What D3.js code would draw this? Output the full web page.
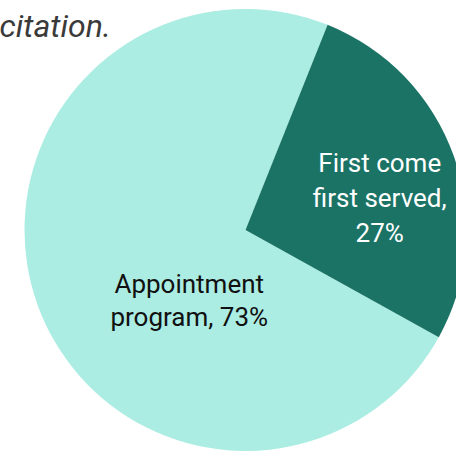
<!DOCTYPE html>
<html>
<head>
<meta charset="utf-8">
<script src="https://d3js.org/d3.v7.min.js"></script>
<style>
body {margin:0; background:#fff;}
svg {display:block; font-family: Roboto, "Noto Sans", sans-serif;}
</style>
</head>
<body>
<svg width="456" height="451"></svg>
<script>
// data
var categories = ["Appointment program", "First come first served"];
var shares = [73, 27];
var labelLines = [["Appointment", "program, 73%"], ["First come", "first served,", "27%"]];
var colors = ["#abede3", "#1b7366"];
var textColors = ["#111111", "#ffffff"];

var svg = d3.select("svg");
var cx = 245.5, cy = 230, radius = 221;

// cut-off subtitle above the chart
svg.append("text")
  .attr("x", 111)
  .attr("y", 37)
  .attr("text-anchor", "end")
  .style("font-style", "italic")
  .style("font-size", "32px")
  .attr("fill", "#3a3a3a")
  .text("citation.");

var pie = d3.pie().sort(null).value(function(d) { return d; })
  .startAngle(119 * Math.PI / 180)
  .endAngle(479 * Math.PI / 180);
var arc = d3.arc().innerRadius(0).outerRadius(radius);

var g = svg.append("g").attr("transform", "translate(" + cx + "," + cy + ")");
var arcs = pie(shares);

g.selectAll("path")
  .data(arcs)
  .enter()
  .append("path")
  .attr("d", arc)
  .attr("fill", function(d, i) { return colors[i]; });

// label anchors (polar, relative to centre) - hand placed like the original
var labelAngle = [218.7, 76.6];
var labelRadius = [90, 138];
var lineHeight = [32.5, 34.7];

g.selectAll("text.lbl")
  .data(arcs)
  .enter()
  .append("text")
  .attr("class", "lbl")
  .attr("text-anchor", "middle")
  .style("font-size", "26px")
  .attr("fill", function(d, i) { return textColors[i]; })
  .each(function(d, i) {
    var a = labelAngle[i] * Math.PI / 180;
    var x = Math.sin(a) * labelRadius[i];
    var y = -Math.cos(a) * labelRadius[i];
    var lines = labelLines[i];
    var top = y - (lines.length - 1) * lineHeight[i] / 2;
    d3.select(this).selectAll("tspan")
      .data(lines)
      .enter()
      .append("tspan")
      .attr("x", x)
      .attr("y", function(l, j) { return top + j * lineHeight[i]; })
      .attr("dy", "0.35em")
      .text(function(l) { return l; });
  });
</script>
</body>
</html>
